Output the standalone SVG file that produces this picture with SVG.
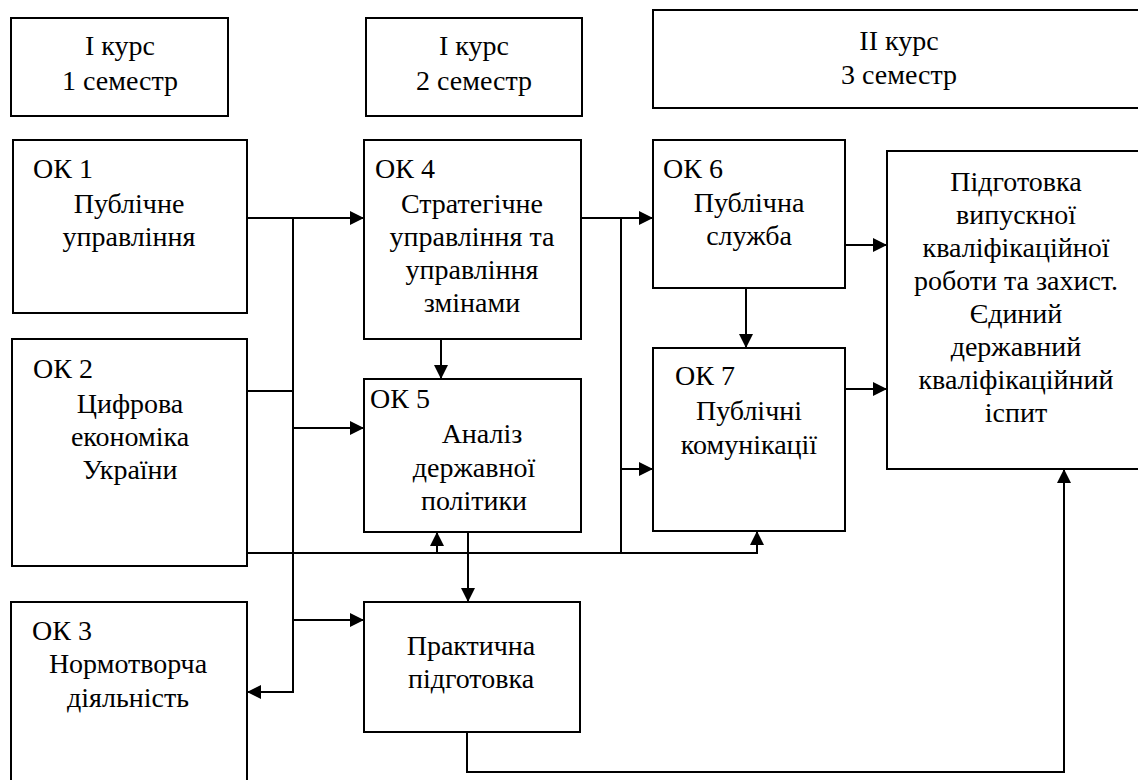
<svg xmlns="http://www.w3.org/2000/svg" width="1138" height="780" viewBox="0 0 1138 780">
<defs>
<marker id="arr" markerUnits="userSpaceOnUse" markerWidth="14" markerHeight="14" refX="14" refY="7" orient="auto">
<path d="M0,0 L14,7 L0,14 z" fill="#000"/>
</marker>
<style>
.box{fill:#fff;stroke:#000;stroke-width:2}
.c{text-anchor:middle}
.ln{fill:none;stroke:#000;stroke-width:2}
text{font-family:"Liberation Serif","Times New Roman",serif;font-size:28px;fill:#000}
</style>
</defs>
<rect width="1138" height="780" fill="#fff"/>

<g id="hdr1">
<rect class="box" x="11" y="18" width="217" height="98"/>
<text class="c" x="120" y="55">I курс</text>
<text class="c" x="120" y="90">1 семестр</text>
</g>
<g id="hdr2">
<rect class="box" x="366" y="18" width="216" height="98"/>
<text class="c" x="474" y="55">I курс</text>
<text class="c" x="474" y="90">2 семестр</text>
</g>
<g id="hdr3">
<rect class="box" x="653" y="10" width="500" height="98"/>
<text class="c" x="899" y="50">II курс</text>
<text class="c" x="899" y="84">3 семестр</text>
</g>

<g id="ok1">
<rect class="box" x="13" y="140" width="234" height="173"/>
<text x="33" y="178">ОК 1</text>
<text class="c" x="129" y="213">Публічне</text>
<text class="c" x="129" y="246">управління</text>
</g>
<g id="ok2">
<rect class="box" x="12" y="339" width="235" height="227"/>
<text x="33" y="378">ОК 2</text>
<text class="c" x="130" y="413">Цифрова</text>
<text class="c" x="130" y="446">економіка</text>
<text class="c" x="130" y="479">України</text>
</g>
<g id="ok3">
<rect class="box" x="11" y="602" width="236" height="200"/>
<text x="32" y="640">ОК 3</text>
<text class="c" x="128" y="673">Нормотворча</text>
<text class="c" x="128" y="707">діяльність</text>
</g>
<g id="ok4">
<rect class="box" x="364" y="140" width="217" height="199"/>
<text x="375" y="178">ОК 4</text>
<text class="c" x="472" y="213">Стратегічне</text>
<text class="c" x="472" y="246">управління та</text>
<text class="c" x="472" y="279">управління</text>
<text class="c" x="472" y="312">змінами</text>
</g>
<g id="ok5">
<rect class="box" x="364" y="379" width="217" height="153"/>
<text x="370" y="408">ОК 5</text>
<text class="c" x="482" y="443">Аналіз</text>
<text class="c" x="474" y="477">державної</text>
<text class="c" x="474" y="510">політики</text>
</g>
<g id="prac">
<rect class="box" x="364" y="602" width="216" height="130"/>
<text class="c" x="471" y="655">Практична</text>
<text class="c" x="471" y="688">підготовка</text>
</g>
<g id="ok6">
<rect class="box" x="653" y="140" width="192" height="148"/>
<text x="663" y="178">ОК 6</text>
<text class="c" x="749" y="212">Публічна</text>
<text class="c" x="749" y="245">служба</text>
</g>
<g id="ok7">
<rect class="box" x="653" y="348" width="192" height="183"/>
<text x="675" y="385">ОК 7</text>
<text class="c" x="749" y="420">Публічні</text>
<text class="c" x="749" y="454">комунікації</text>
</g>
<g id="final">
<rect class="box" x="887" y="151" width="260" height="318"/>
<text class="c" x="1016" y="191">Підготовка</text>
<text class="c" x="1016" y="224">випускної</text>
<text class="c" x="1016" y="257">кваліфікаційної</text>
<text class="c" x="1016" y="290">роботи та захист.</text>
<text class="c" x="1016" y="323">Єдиний</text>
<text class="c" x="1016" y="356">державний</text>
<text class="c" x="1016" y="389">кваліфікаційний</text>
<text class="c" x="1016" y="422">іспит</text>
</g>

<g id="connectors">
<path class="ln" d="M247,218 H364" marker-end="url(#arr)"/>
<path class="ln" d="M293,218 V692 H247" marker-end="url(#arr)"/>
<path class="ln" d="M247,391 H293"/>
<path class="ln" d="M293,428 H364" marker-end="url(#arr)"/>
<path class="ln" d="M293,620 H364" marker-end="url(#arr)"/>
<path class="ln" d="M247,553 H757 V531" marker-end="url(#arr)"/>
<path class="ln" d="M437,553 V532" marker-end="url(#arr)"/>
<path class="ln" d="M441,339 V379" marker-end="url(#arr)"/>
<path class="ln" d="M468,532 V602" marker-end="url(#arr)"/>
<path class="ln" d="M581,218 H653" marker-end="url(#arr)"/>
<path class="ln" d="M621,218 V553"/>
<path class="ln" d="M621,469 H653" marker-end="url(#arr)"/>
<path class="ln" d="M746,288 V348" marker-end="url(#arr)"/>
<path class="ln" d="M845,245 H887" marker-end="url(#arr)"/>
<path class="ln" d="M845,389 H887" marker-end="url(#arr)"/>
<path class="ln" d="M467,732 V772 H1064 V469" marker-end="url(#arr)"/>
</g>
</svg>
